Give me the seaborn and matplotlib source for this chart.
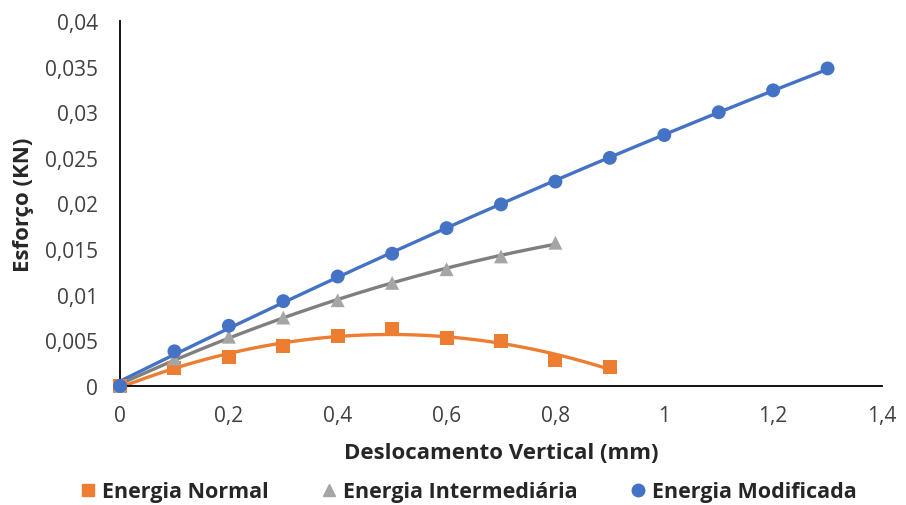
import numpy as np
import pandas as pd
import matplotlib
matplotlib.use("Agg")
import matplotlib.pyplot as plt
import seaborn as sns
from matplotlib.ticker import FuncFormatter
from matplotlib.lines import Line2D

x_normal = [0, 0.1, 0.2, 0.3, 0.4, 0.5, 0.6, 0.7, 0.8, 0.9]
y_normal = [0, 0.0020, 0.0032, 0.0044, 0.0055, 0.0063, 0.0053, 0.0049, 0.0028, 0.0021]
x_inter = [0, 0.1, 0.2, 0.3, 0.4, 0.5, 0.6, 0.7, 0.8]
y_inter = [0, 0.0030, 0.0054, 0.0075, 0.0094, 0.0113, 0.0128, 0.0142, 0.0157]
x_mod = [0, 0.1, 0.2, 0.3, 0.4, 0.5, 0.6, 0.7, 0.8, 0.9, 1.0, 1.1, 1.2, 1.3]
y_mod = [0, 0.0038, 0.0066, 0.0093, 0.0120, 0.0145, 0.0173, 0.0199, 0.0224, 0.0250, 0.0275, 0.0300, 0.0324, 0.0348]

labels = ["Energia Normal", "Energia Intermediária", "Energia Modificada"]
colors = ["#ED7D31", "#A5A5A5", "#4472C4"]
line_colors = ["#ED7D31", "#7F7F7F", "#4472C4"]
markers = ["s", "^", "o"]

sns.set_theme(style="white")
plt.rcParams["font.family"] = ["Open Sans", "DejaVu Sans"]

fig = plt.figure(figsize=(9.06, 5.06), dpi=100)
ax = fig.add_axes([120/906, 1-387/506, (882-120)/906, (387-22)/506])

series = [(x_normal, y_normal, 2), (x_inter, y_inter, 2), (x_mod, y_mod, 2)]
for (xs, ys, deg), lab, c, lc, m in zip(series, labels, colors, line_colors, markers):
    coef = np.polyfit(xs, ys, deg)
    xf = np.linspace(min(xs), max(xs), 200)
    yf = np.polyval(coef, xf)
    sns.lineplot(x=xf, y=yf, ax=ax, color=lc, linewidth=2.4, legend=False)
    sns.scatterplot(x=xs, y=ys, ax=ax, color=c, marker=m, s=100, edgecolor="none",
                    legend=False, zorder=3, clip_on=False)

ax.set_xlim(0, 1.4)
ax.set_ylim(0, 0.04)
ax.set_xticks(np.arange(0, 1.41, 0.2))
ax.set_yticks(np.arange(0, 0.0401, 0.005))

def fmt(v, pos):
    s = f"{v:.3f}".rstrip("0").rstrip(".")
    return s.replace(".", ",")

ax.xaxis.set_major_formatter(FuncFormatter(fmt))
ax.yaxis.set_major_formatter(FuncFormatter(fmt))
ax.tick_params(axis="both", labelsize=15, colors="#404040", length=0)
ax.tick_params(axis="y", pad=16)
ax.tick_params(axis="x", pad=14)
for lbl in ax.get_xticklabels() + ax.get_yticklabels():
    lbl.set_color("#404040")

for s in ["top", "right"]:
    ax.spines[s].set_visible(False)
for s in ["left", "bottom"]:
    ax.spines[s].set_color("black")
    ax.spines[s].set_linewidth(1.3)

ax.set_xlabel("Deslocamento Vertical (mm)", fontsize=16, fontweight="bold", color="#262626", labelpad=11)
ax.set_ylabel("Esforço (KN)", fontsize=16, fontweight="bold", color="#262626", labelpad=8)

handles = [Line2D([], [], linestyle="none", marker=m, color=c, markersize=9)
           for m, c in zip(markers, colors)]
fig.legend(handles, labels, loc="center", bbox_to_anchor=(468/906, 1-493/506), ncol=3,
           frameon=False, prop={"weight": "bold", "size": 15.5}, handletextpad=0.25,
           columnspacing=2.4, handlelength=0.8)

fig.savefig("out.png", dpi=100)
